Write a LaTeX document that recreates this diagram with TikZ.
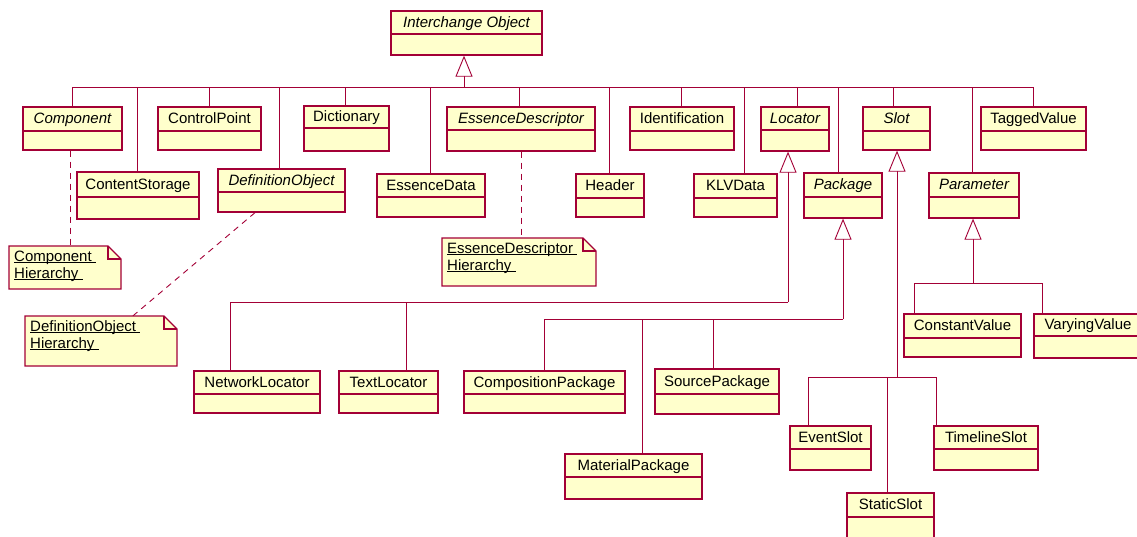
\documentclass[tikz,border=0pt]{standalone}
\usepackage{fontspec}
\setmainfont{Liberation Sans}
\usetikzlibrary{arrows.meta,fit}
\definecolor{umlred}{RGB}{163,0,54}
\definecolor{umlfill}{RGB}{255,255,204}
\newcommand\myul[1]{\setbox0\hbox{#1}\rlap{\rule[-2.2pt]{\wd0}{0.8pt}}\box0}
\newcommand\umlclass[7]{%
  \coordinate (#1-nw) at (#2,#3);
  \coordinate (#1-se) at (#4,#5);
  \node[clsbox, fit=(#1-nw)(#1-se)] (#1) {};
  \draw[clsline] (#2,#6) -- (#4,#6);
  \node[clstext] (#1-label) at ({(#2+#4)/2},{(#3+#6)/2+4.5}) {#7};
}
\newcommand\umlnote[7]{%
  \coordinate (#1-nw) at (#2,#3);
  \coordinate (#1-se) at (#4,#5);
  \node[fit=(#1-nw)(#1-se), inner sep=0pt] (#1) {};
  \filldraw[notebox] (#2,#3) -- ({#4-13},#3) -- (#4,{#3+13}) -- (#4,#5) -- (#2,#5) -- cycle;
  \draw[notebox, fill=none] ({#4-13},#3) -- ({#4-13},{#3+13}) -- (#4,{#3+13});
  \node[notetext] (#1-l1) at ({#2+5},{#3+15}) {\myul{#6}};
  \node[notetext] (#1-l2) at ({#2+5},{#3+32}) {\myul{#7}};
}
\begin{document}
\begin{tikzpicture}[x=1pt,y=-1pt,
  clsbox/.style={draw=umlred, fill=umlfill, line width=1.3pt, inner sep=0pt, rectangle},
  clsline/.style={draw=umlred, line width=1.3pt},
  clstext/.style={inner sep=0pt, anchor=base, font=\fontsize{15}{18}\selectfont, text=black},
  conn/.style={draw=umlred, line width=0.9pt},
  gen/.style={conn, -{Triangle[length=21pt,width=17pt,fill=white]}},
  dep/.style={conn, dash pattern=on 6pt off 5pt},
  notebox/.style={draw=umlred, fill=umlfill, line width=1.3pt, line join=miter},
  notetext/.style={inner sep=0pt, anchor=base west, font=\fontsize{15}{18}\selectfont, text=black}]
\useasboundingbox (0,0) rectangle (1137,536);
\clip (0,0) rectangle (1137,536);

% classes
\umlclass{IO}{391}{11}{542}{55}{34}{\itshape Interchange Object}
\umlclass{Component}{23}{107}{122}{150}{131}{\itshape Component}
\umlclass{ContentStorage}{77}{172}{199}{219}{197}{ContentStorage}
\umlclass{ControlPoint}{158}{107}{261}{150}{131}{ControlPoint}
\umlclass{DefinitionObject}{218}{169}{345}{212}{192}{\itshape DefinitionObject}
\umlclass{Dictionary}{304}{106}{389}{151}{128}{Dictionary}
\umlclass{EssenceData}{377}{174}{485}{217}{197}{EssenceData}
\umlclass{EssenceDescriptor}{447}{107}{595}{151}{130}{\itshape EssenceDescriptor}
\umlclass{Header}{576}{174}{644}{217}{198}{Header}
\umlclass{Identification}{630}{107}{734}{150}{131}{Identification}
\umlclass{KLVData}{694}{174}{777}{217}{198}{KLVData}
\umlclass{Locator}{761}{107}{829}{151}{130}{\itshape Locator}
\umlclass{Package}{804}{173}{882}{218}{197}{\itshape Package}
\umlclass{Slot}{863}{107}{930}{150}{131}{\itshape Slot}
\umlclass{Parameter}{929}{173}{1019}{218}{197}{\itshape Parameter}
\umlclass{TaggedValue}{981}{107}{1086}{150}{131}{TaggedValue}
\umlclass{NetworkLocator}{194}{371}{320}{413}{394}{NetworkLocator}
\umlclass{TextLocator}{339}{371}{438}{413}{394}{TextLocator}
\umlclass{CompositionPackage}{464}{371}{625}{413}{394}{CompositionPackage}
\umlclass{SourcePackage}{655}{369}{779}{414}{394}{SourcePackage}
\umlclass{MaterialPackage}{565}{454}{702}{499}{477}{MaterialPackage}
\umlclass{EventSlot}{790}{426}{871}{470}{449}{EventSlot}
\umlclass{TimelineSlot}{934}{426}{1038}{470}{449}{TimelineSlot}
\umlclass{StaticSlot}{847}{493}{934}{545}{517}{StaticSlot}
\umlclass{ConstantValue}{904}{314}{1021}{357}{338}{ConstantValue}
\umlclass{VaryingValue}{1034}{314}{1142}{358}{336}{VaryingValue}

% notes
\umlnote{CompNote}{9}{246}{121}{289}{Component\ }{Hierarchy\ }
\umlnote{DefNote}{25}{316}{177}{366}{DefinitionObject\ }{Hierarchy\ }
\umlnote{EDNote}{442}{238}{596}{286}{EssenceDescriptor\ }{Hierarchy\ }

% main inheritance bus
\coordinate (busL) at (72,87);
\coordinate (busR) at (1033,87);
\coordinate (busJ) at (464,87);
\draw[conn] (busL) -- (busR);
\draw[gen] (busJ) -- (busJ |- IO.south);
\foreach \n/\x in {Component/72, ContentStorage/137, ControlPoint/209,
  DefinitionObject/279, Dictionary/345, EssenceData/430, EssenceDescriptor/519,
  Header/609, Identification/681, KLVData/744, Locator/797, Package/838,
  Slot/893, Parameter/972, TaggedValue/1033}
  \draw[conn] (\x,0 |- busL) -- (\x,0 |- \n.north);

% Locator
\coordinate (locJ) at (788,302);
\draw[gen] (locJ) -- (locJ |- Locator.south);
\draw[conn] (locJ) -- (230,0 |- locJ);
\foreach \n/\x in {NetworkLocator/230, TextLocator/406}
  \draw[conn] (\x,0 |- locJ) -- (\x,0 |- \n.north);

% Package
\coordinate (pkgJ) at (843,319);
\draw[gen] (pkgJ) -- (pkgJ |- Package.south);
\draw[conn] (pkgJ) -- (544,0 |- pkgJ);
\foreach \n/\x in {CompositionPackage/544, MaterialPackage/642, SourcePackage/713}
  \draw[conn] (\x,0 |- pkgJ) -- (\x,0 |- \n.north);

% Slot
\coordinate (slotJ) at (897,377);
\draw[gen] (slotJ) -- (slotJ |- Slot.south);
\draw[conn] (808,0 |- slotJ) -- (936,0 |- slotJ);
\foreach \n/\x in {EventSlot/808, StaticSlot/887, TimelineSlot/936}
  \draw[conn] (\x,0 |- slotJ) -- (\x,0 |- \n.north);

% Parameter
\coordinate (parJ) at (973,283);
\draw[gen] (parJ) -- (parJ |- Parameter.south);
\draw[conn] (914,0 |- parJ) -- (1042,0 |- parJ);
\foreach \n/\x in {ConstantValue/914, VaryingValue/1042}
  \draw[conn] (\x,0 |- parJ) -- (\x,0 |- \n.north);

% note links
\draw[dep] (70,0 |- Component.south) -- (70,0 |- CompNote.north);
\draw[dep] (255,0 |- DefinitionObject.south) -- (133,0 |- DefNote.north);
\draw[dep] (521,0 |- EssenceDescriptor.south) -- (521,0 |- EDNote.north);
\end{tikzpicture}
\end{document}
